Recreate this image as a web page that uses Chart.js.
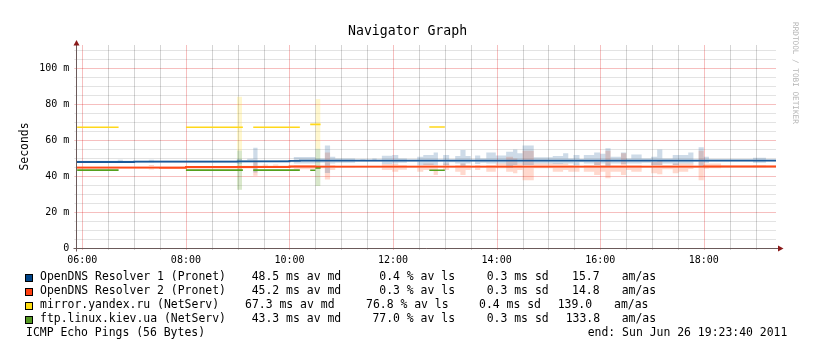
<!DOCTYPE html>
<html>
<head>
<meta charset="utf-8">
<script src="https://cdn.jsdelivr.net/npm/chart.js@4/dist/chart.umd.min.js"></script>
<style>
  html, body { margin: 0; padding: 0; background: #fff; }
  #wrap { position: relative; width: 821px; height: 357px; overflow: hidden; background: #fff; }
  #c { position: absolute; left: 0; top: 0; }
  .t { position: absolute; font-family: "DejaVu Sans Mono", monospace; color: #000; white-space: pre; }
  .lg { font-size: 11.45px; line-height: 14px; }
  .box { position: absolute; width: 8px; height: 8px; box-sizing: border-box; border: 1px solid #000; }
  #title { font-size: 13.2px; line-height: 16px; left: 348px; top: 23px; }
  #wm { position: absolute; left: 791px; top: 22px; font-family: "DejaVu Sans Mono", monospace; font-size: 7.7px; line-height: 8px; color: #b4b4b4; writing-mode: vertical-rl; white-space: pre; }
</style>
</head>
<body>
<div id="wrap">
  <canvas id="c" width="821" height="357"></canvas>
  <div id="title" class="t">Navigator Graph</div>
  <div id="wm">RRDTOOL / TOBI OETIKER</div>
  <div id="legend"></div>
</div>
<script>
// ---------------- data ----------------
const chartTitle = 'Navigator Graph';
const timeStart = '05:53';
const timeEnd = '19:23:40';

const xTickValues = ['06:00', '08:00', '10:00', '12:00', '14:00', '16:00', '18:00'];
const xMinorStepMinutes = 30;
const yTickValues = [0, 20, 40, 60, 80, 100];
const yTickLabels = ['0', '20 m', '40 m', '60 m', '80 m', '100 m'];
const yMinorStep = 5;
const yMax = 112.8;
const yAxisTitle = 'Seconds';

const seriesNames = ['OpenDNS Resolver 1 (Pronet)', 'OpenDNS Resolver 2 (Pronet)', 'mirror.yandex.ru (NetServ)', 'ftp.linux.kiev.ua (NetServ)'];
const seriesMedian = ['48.5 ms av md', '45.2 ms av md', '67.3 ms av md', '43.3 ms av md'];
const seriesLoss = ['0.4 % av ls', '0.3 % av ls', '76.8 % av ls', '77.0 % av ls'];
const seriesSd = ['0.3 ms sd', '0.3 ms sd', '0.4 ms sd', '0.3 ms sd'];
const seriesAmas = ['15.7', '14.8', '139.0', '133.8'];
const footLeft = 'ICMP Echo Pings (56 Bytes)';
const footRight = 'end: Sun Jun 26 19:23:40 2011';

// median latency (ms), step values holding until the next time
const blueMedTimes = ['05:53', '07:00', '09:00', '10:00', '10:12', '16:00', '19:24'];
const blueMedVals  = [47.8,    48.0,    48.1,    48.4,    48.5,    48.6,    48.6];
const redMedTimes  = ['05:53', '07:30', '08:00', '10:00', '10:30', '18:00', '19:24'];
const redMedVals   = [44.7,    44.6,    45.0,    45.3,    45.2,    45.3,    45.3];

// partial-loss hosts: [start, end, median]
const yandexSegs = [['05:54', '06:42', 67.1], ['08:00', '09:06', 67.1], ['09:18', '10:12', 67.1], ['10:24', '10:36', 68.7], ['12:42', '13:00', 67.2]];
const kievSegs   = [['05:54', '06:42', 43.3], ['08:00', '09:06', 43.3], ['09:18', '10:12', 43.3], ['10:24', '10:30', 43.2], ['10:30', '10:36', 44.5], ['12:42', '13:00', 43.2]];

// smoke (ping spread), value holds until next time
const smokeTimes = ['05:53','06:41','06:47','07:17','07:23','08:59','09:05','09:11','09:18','09:23','09:29','09:35','09:41','09:47','10:05','10:30','10:41','10:47','10:53','11:16','11:22','11:28','11:36','11:41','11:47','11:59','12:06','12:16','12:28','12:35','12:47','12:52','12:58','13:05','13:12','13:18','13:24','13:30','13:35','13:41','13:48','13:59','14:11','14:19','14:24','14:30','14:43','15:05','15:17','15:23','15:29','15:36','15:41','15:53','16:00','16:06','16:12','16:24','16:30','16:36','16:48','16:59','17:06','17:12','17:24','17:31','17:42','17:48','17:54','18:00','18:06','18:20','18:57','19:12','19:24'];
const blueLo = [47.2,47.2,47.2,47.2,47.4,46.8,47.5,47.5,42.0,47.6,47.6,47.6,47.6,47.6,47.0,47.4,41.7,47.0,47.4,48.0,48.0,48.0,48.0,48.0,46.7,47.0,47.4,48.0,46.1,46.1,46.1,48.0,46.1,47.7,47.0,45.5,47.0,48.0,46.7,47.4,47.0,47.0,44.6,46.1,47.0,46.1,47.0,46.7,47.0,47.0,46.1,47.7,47.0,46.1,47.0,45.5,47.0,46.7,47.0,47.0,47.4,46.1,46.1,47.0,46.1,47.0,47.0,48.0,45.5,47.4,48.2,48.2,47.4,48.2,48.2];
const blueHi = [48.5,49.0,48.5,49.0,48.6,49.5,48.7,49.6,55.7,48.8,48.8,48.8,48.8,48.9,50.6,49.8,56.9,50.7,49.8,49.0,49.3,49.0,49.8,49.0,51.2,51.7,49.8,49.0,50.7,51.7,53.0,49.0,51.7,49.2,51.1,54.5,51.1,49.0,51.4,49.8,53.0,51.4,53.5,54.8,52.6,56.9,50.4,51.1,52.6,49.8,51.7,49.5,51.7,53.0,52.4,55.4,50.7,53.0,49.8,52.0,49.8,50.7,54.8,49.8,51.7,51.7,53.0,49.1,56.0,50.7,49.3,49.3,50.2,49.2,49.2];
const redLo  = [44.0,44.0,44.0,43.6,44.0,43.7,44.2,44.2,40.2,44.4,44.4,44.4,44.4,44.5,43.7,44.3,38.1,43.3,44.6,44.7,44.7,44.7,44.7,44.7,43.3,42.4,43.5,44.7,42.4,43.3,40.5,44.7,43.3,44.7,42.4,40.5,43.3,44.7,43.3,44.7,42.4,44.3,42.4,41.5,43.3,37.7,44.3,42.4,43.3,42.4,42.4,44.7,42.4,40.5,42.4,38.7,42.4,40.5,43.3,42.4,44.7,41.5,41.0,43.7,41.5,42.4,43.9,44.8,37.7,44.0,44.3,44.9,44.7,44.9,44.9];
const redHi  = [45.5,45.5,45.5,46.1,45.5,45.8,45.7,45.7,48.7,45.8,46.4,45.8,46.4,45.9,46.1,45.8,53.0,46.1,45.7,45.7,45.7,45.7,45.7,45.7,46.7,46.7,46.1,45.7,46.1,47.0,46.1,45.7,47.0,45.7,46.1,47.0,46.1,45.7,46.1,45.7,46.1,47.0,50.7,49.8,47.0,54.0,47.0,47.0,47.0,46.1,46.1,45.7,46.1,47.8,46.1,54.0,46.1,52.6,46.1,46.1,45.7,47.8,48.9,46.1,47.0,47.0,47.0,45.8,54.0,47.0,47.0,45.8,46.1,45.8,45.8];

// smoke spikes for partial-loss hosts: [start, end, lo, hi]
const yandexSmoke = [['08:59', '09:05', 54.2, 84.1], ['10:30', '10:36', 55.2, 82.8]];
const kievSmoke   = [['08:59', '09:05', 32.3, 54.2], ['10:30', '10:36', 34.5, 55.2]];

// ---------------- styles ----------------
const lineColors = ['#1a5898', '#ff4a18', '#ffd81a', '#55a01e'];
const boxColors  = ['#004488', '#ff4010', '#ffdd11', '#559922'];
const smokeColors = ['rgba(30,90,150,0.22)', 'rgba(255,80,30,0.22)', 'rgba(255,220,30,0.22)', 'rgba(80,150,20,0.22)'];
const gridMinorH = 'rgba(0,0,0,0.11)';
const gridMinorV = 'rgba(0,0,0,0.17)';
const gridMajor = 'rgba(220,0,0,0.25)';
const axisColor = '#6b5a5a';
const arrowColor = '#8a1a1a';

// ---------------- helpers ----------------
function toH(s) { const p = s.split(':').map(Number); return p[0] + (p[1] || 0) / 60 + (p[2] || 0) / 3600; }
function fmt(h) { const hh = Math.floor(h + 1e-6); const mm = Math.round((h - hh) * 60); return String(hh).padStart(2, '0') + ':' + String(mm).padStart(2, '0'); }
function stepPts(times, vals) { return times.map((t, i) => ({ x: toH(t), y: vals[i] })); }
function segPts(segs, idx) {
  const out = [];
  segs.forEach(s => { out.push({ x: toH(s[0]), y: s[idx] }); out.push({ x: toH(s[1]), y: s[idx] }); out.push({ x: toH(s[1]) + 0.001, y: null }); });
  return out;
}

const xMin = toH(timeStart), xMax = toH(timeEnd);
const majorX = xTickValues.map(toH);
const isMajorX = v => majorX.some(m => Math.abs(m - v) < 1e-6);

function lineDs(data, color, width, order) {
  return { data, borderColor: color, borderWidth: width, pointRadius: 0, stepped: true, fill: false, order, spanGaps: false };
}
function edgeDs(data, fillTarget, bg) {
  return { data, borderColor: 'rgba(0,0,0,0)', borderWidth: 0, pointRadius: 0, stepped: true, fill: fillTarget, backgroundColor: bg, order: 5, spanGaps: false };
}

const datasets = [
  lineDs(stepPts(blueMedTimes, blueMedVals), lineColors[0], 1.8, 0),
  lineDs(stepPts(redMedTimes, redMedVals), lineColors[1], 1.8, 0),
  lineDs(segPts(yandexSegs, 2), lineColors[2], 1.6, 0),
  lineDs(segPts(kievSegs, 2), lineColors[3], 1.6, 0),
  edgeDs(stepPts(smokeTimes, blueHi), false, smokeColors[0]),
  edgeDs(stepPts(smokeTimes, blueLo), 4, smokeColors[0]),
  edgeDs(stepPts(smokeTimes, redHi), false, smokeColors[1]),
  edgeDs(stepPts(smokeTimes, redLo), 6, smokeColors[1]),
  edgeDs(segPts(yandexSmoke, 3), false, smokeColors[2]),
  edgeDs(segPts(yandexSmoke, 2), 8, smokeColors[2]),
  edgeDs(segPts(kievSmoke, 3), false, smokeColors[3]),
  edgeDs(segPts(kievSmoke, 2), 10, smokeColors[3])
];

// grid drawn under everything, from the scales' tick values
const gridPlugin = {
  id: 'rrdGrid',
  beforeDraw(chart) {
    const { ctx, chartArea: a, scales } = chart;
    ctx.save();
    ctx.lineWidth = 1;
    scales.y.ticks.forEach(t => {
      const y = Math.round(scales.y.getPixelForValue(t.value)) + 0.5;
      ctx.strokeStyle = yTickValues.includes(t.value) ? gridMajor : gridMinorH;
      ctx.beginPath(); ctx.moveTo(a.left - 2, y); ctx.lineTo(a.right, y); ctx.stroke();
    });
    scales.x.ticks.forEach(t => {
      const x = Math.round(scales.x.getPixelForValue(t.value)) + 0.5;
      ctx.strokeStyle = isMajorX(t.value) ? gridMajor : gridMinorV;
      ctx.beginPath(); ctx.moveTo(x, a.top); ctx.lineTo(x, a.bottom + 2); ctx.stroke();
    });
    ctx.restore();
  }
};

const axesPlugin = {
  id: 'rrdAxes',
  afterDatasetsDraw(chart) {
    const { ctx, chartArea: a } = chart;
    const x0 = Math.round(a.left) + 0.5, y0 = Math.round(a.bottom) + 0.5;
    ctx.save();
    ctx.strokeStyle = axisColor; ctx.lineWidth = 1;
    ctx.beginPath();
    ctx.moveTo(x0 - 3, y0); ctx.lineTo(a.right + 4, y0);
    ctx.moveTo(x0, y0 + 3); ctx.lineTo(x0, a.top - 2);
    ctx.stroke();
    ctx.fillStyle = arrowColor;
    ctx.beginPath();
    ctx.moveTo(a.right + 7.5, y0); ctx.lineTo(a.right + 2, y0 - 3); ctx.lineTo(a.right + 2, y0 + 3); ctx.closePath(); ctx.fill();
    ctx.beginPath();
    ctx.moveTo(x0, a.top - 5); ctx.lineTo(x0 - 3, a.top + 0.5); ctx.lineTo(x0 + 3, a.top + 0.5); ctx.closePath(); ctx.fill();
    ctx.restore();
  }
};

new Chart(document.getElementById('c'), {
  type: 'line',
  data: { datasets },
  plugins: [gridPlugin, axesPlugin],
  options: {
    responsive: false,
    animation: false,
    devicePixelRatio: 1,
    layout: { padding: { left: 0, right: 45, top: 45, bottom: 0 } },
    plugins: { legend: { display: false }, tooltip: { enabled: false }, title: { display: false }, filler: { propagate: false, drawTime: 'beforeDatasetsDraw' } },
    scales: {
      x: {
        type: 'linear', min: xMin, max: xMax,
        afterFit(s) { s.height = 109; },
        afterBuildTicks(s) {
          const t = [];
          for (let m = Math.ceil(xMin * 60 / xMinorStepMinutes) * xMinorStepMinutes; m <= xMax * 60; m += xMinorStepMinutes) t.push({ value: m / 60 });
          s.ticks = t;
        },
        border: { display: false },
        grid: { display: false, drawTicks: false },
        ticks: {
          autoSkip: false, maxRotation: 0, padding: 6, color: '#000',
          font: { family: 'DejaVu Sans Mono', size: 10 },
          callback: v => isMajorX(v) ? fmt(v) : ''
        }
      },
      y: {
        min: 0, max: yMax,
        afterFit(s) { s.width = 76.3; },
        afterBuildTicks(s) {
          const t = [];
          for (let v = 0; v <= yMax; v += yMinorStep) t.push({ value: v });
          s.ticks = t;
        },
        border: { display: false },
        grid: { display: false, drawTicks: false },
        ticks: {
          autoSkip: false, padding: 7, color: '#000',
          font: { family: 'DejaVu Sans Mono', size: 10 },
          callback: v => { const i = yTickValues.indexOf(v); return i >= 0 ? yTickLabels[i] : ''; }
        },
        title: { display: true, text: yAxisTitle, color: '#000', padding: { top: 18, bottom: 0 }, font: { family: 'DejaVu Sans Mono', size: 11.45 } }
      }
    }
  }
});

// ---------------- legend (HTML text) ----------------
const lg = document.getElementById('legend');
function addText(txt, left, top) {
  const d = document.createElement('div'); d.className = 't lg'; d.textContent = txt;
  d.style.left = left + 'px'; d.style.top = top + 'px'; lg.appendChild(d);
}
const rowTops = [269, 283, 297, 311, 325];
const colX = [
  [40, 251.7, 379.3, 486.7, 572, 621.7],
  [40, 251.7, 379.3, 486.7, 572, 621.7],
  [40, 245, 366, 479, 557.7, 614],
  [40, 251.7, 372.4, 486.7, 565.7, 621.7]
];
seriesNames.forEach((n, i) => {
  const b = document.createElement('div'); b.className = 'box';
  b.style.left = '25px'; b.style.top = (rowTops[i] + 5) + 'px'; b.style.background = boxColors[i];
  lg.appendChild(b);
  const cx = colX[i];
  addText(n, cx[0], rowTops[i]);
  addText(seriesMedian[i], cx[1], rowTops[i]);
  addText(seriesLoss[i], cx[2], rowTops[i]);
  addText(seriesSd[i], cx[3], rowTops[i]);
  addText(seriesAmas[i], cx[4], rowTops[i]);
  addText('am/as', cx[5], rowTops[i]);
});
addText(footLeft, 26, rowTops[4]);
addText(footRight, 587.7, rowTops[4]);
document.getElementById('title').textContent = chartTitle;
</script>
</body>
</html>
